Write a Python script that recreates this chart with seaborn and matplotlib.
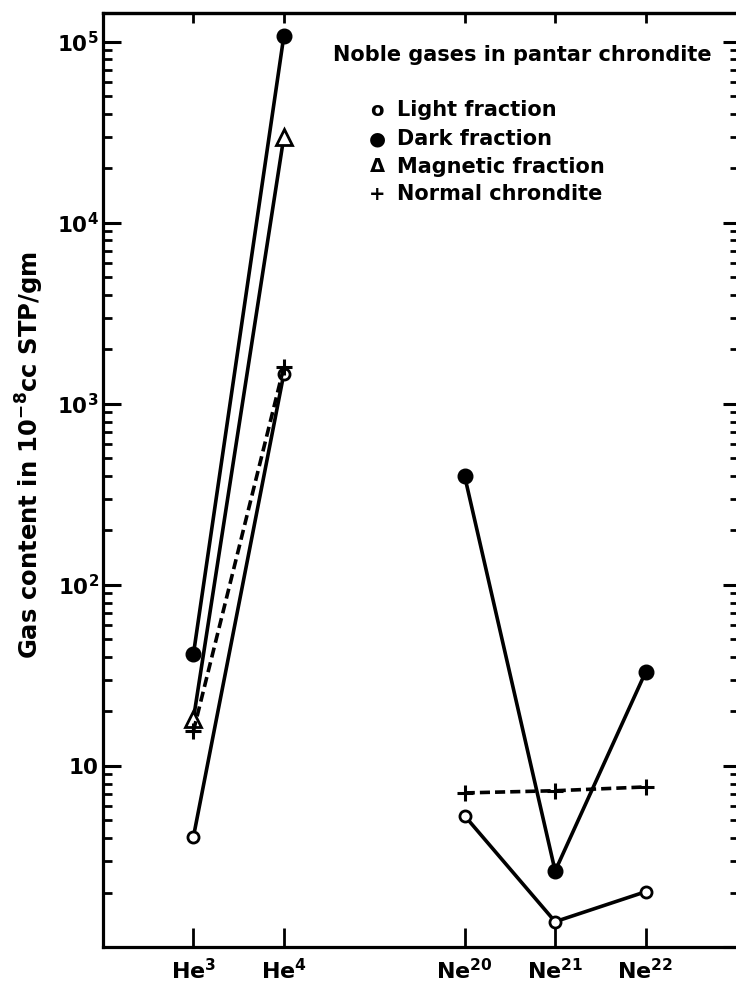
import numpy as np
import pandas as pd
import matplotlib
matplotlib.use("Agg")
import matplotlib.pyplot as plt
import seaborn as sns
from matplotlib.ticker import FixedLocator, FixedFormatter, LogLocator, NullFormatter

# ---------------- data ----------------
isotopes = [r"He$^{3}$", r"He$^{4}$", r"Ne$^{20}$", r"Ne$^{21}$", r"Ne$^{22}$"]
light = [4.06, 1470, 5.3, 1.38, 2.02]
dark = [41.5, 1.08e5, 398, 2.63, 33.0]
magnetic = [18.2, 2.99e4, np.nan, np.nan, np.nan]
normal = [15.6, 1600, 7.1, 7.3, 7.66]
series_names = ["Light fraction", "Dark fraction", "Magnetic fraction", "Normal chrondite"]
y_ticks = [10, 100, 1e3, 1e4, 1e5]
y_tick_labels = ["10", r"10$^{2}$", r"10$^{3}$", r"10$^{4}$", r"10$^{5}$"]
title_text = "Noble gases in pantar chrondite"
ylabel_text = r"Gas content in 10$^{-8}$cc STP/gm"

# ---------------- layout ----------------
iso_pos = [1, 2, 4, 5, 6]
iso_group = ["He", "He", "Ne", "Ne", "Ne"]

rows = []
for name, vals in zip(series_names, [light, dark, magnetic, normal]):
    for lab, p, g, v in zip(isotopes, iso_pos, iso_group, vals):
        rows.append(dict(series=name, isotope=lab, pos=p, group=g, value=v))
df = pd.DataFrame(rows)

sns.set_style("ticks")
plt.rcParams["font.family"] = ["DejaVu Sans"]
plt.rcParams["font.weight"] = "bold"
plt.rcParams["mathtext.fontset"] = "custom"
plt.rcParams["mathtext.rm"] = "DejaVu Sans:bold"
plt.rcParams["mathtext.it"] = "DejaVu Sans:bold"
plt.rcParams["mathtext.bf"] = "DejaVu Sans:bold"
plt.rcParams["mathtext.default"] = "rm"
for k in ["text.color", "axes.labelcolor", "xtick.color", "ytick.color", "axes.edgecolor"]:
    plt.rcParams[k] = "black"

fig = plt.figure(figsize=(7.36, 9.9), dpi=100)
W, H = 736, 990
ax = fig.add_axes([103 / W, 1 - 947 / H, (736 - 103) / W, (947 - 13) / H])

styles = {
    "Light fraction": dict(marker="o", markersize=8, markerfacecolor="white",
                           markeredgecolor="black", markeredgewidth=2.0, linestyle="-"),
    "Dark fraction": dict(marker="o", markersize=10.5, markerfacecolor="black",
                          markeredgecolor="black", markeredgewidth=1.0, linestyle="-"),
    "Magnetic fraction": dict(marker="^", markersize=11, markerfacecolor="white",
                              markeredgecolor="black", markeredgewidth=2.0, linestyle="-"),
    "Normal chrondite": dict(marker="+", markersize=11, markeredgecolor="black",
                             markeredgewidth=2.2, linestyle=(0, (2.8, 1.4))),
}

for name in series_names:
    for g in ["He", "Ne"]:
        sub = df[(df.series == name) & (df.group == g)].dropna(subset=["value"])
        if sub.empty:
            continue
        sns.lineplot(data=sub, x="pos", y="value", ax=ax, color="black",
                     linewidth=2.6, estimator=None, legend=False, **styles[name])

ax.set_yscale("log")
ax.set_ylim(1.0, 1.445e5)
ax.set_xlim(0, 7)

# y axis
ax.yaxis.set_major_locator(FixedLocator(y_ticks))
ax.yaxis.set_major_formatter(FixedFormatter(y_tick_labels))
ax.yaxis.set_minor_locator(LogLocator(base=10, subs=np.arange(2, 10)))
ax.yaxis.set_minor_formatter(NullFormatter())
ax.tick_params(axis="y", which="major", direction="in", length=13, width=2.2,
               labelsize=15.5, pad=3)
ax.tick_params(axis="y", which="minor", direction="in", length=6.5, width=2.0)
ax.set_ylabel(ylabel_text, fontsize=17.5, fontweight="bold")
ax.yaxis.set_label_coords((46 - 103) / 633, (947 - 455) / 934)

# x axis
ax.set_xticks(iso_pos)
ax.set_xticklabels(isotopes, fontsize=16, fontweight="bold")
ax.tick_params(axis="x", which="major", direction="in", length=13.5, width=2.0, pad=8)
ax.set_xlabel("")

for s in ["left", "bottom", "top"]:
    ax.spines[s].set_linewidth(2.3)
    ax.spines[s].set_color("black")
ax.spines["right"].set_visible(False)

# top ticks
secx = ax.secondary_xaxis("top")
secx.set_xticks(iso_pos)
secx.tick_params(direction="in", length=7, width=2.0, labeltop=False)
secx.spines["top"].set_linewidth(2.3)

# right ticks (no spine)
secy = ax.secondary_yaxis("right")
secy.yaxis.set_major_locator(FixedLocator([1, 10, 100, 1e3, 1e4, 1e5]))
secy.yaxis.set_minor_locator(LogLocator(base=10, subs=np.arange(2, 10)))
secy.yaxis.set_minor_formatter(NullFormatter())
secy.tick_params(axis="y", which="major", direction="in", length=9.5, width=2.2,
                 labelright=False)
secy.tick_params(axis="y", which="minor", direction="in", length=4.5, width=2.0)
secy.spines["right"].set_visible(False)

# legend-like annotation
fig.text(333 / W, 1 - 55 / H, title_text, fontsize=15, fontweight="bold",
         ha="left", va="center")
glyphs = ["o", "\u25cf", "\u0394", "+"]
row_y = [110, 139, 167, 194]
for gl, name, yy in zip(glyphs, series_names, row_y):
    fig.text(377 / W, 1 - yy / H, gl, fontsize=14, fontweight="bold",
             ha="center", va="center")
    fig.text(397 / W, 1 - yy / H, name, fontsize=15, fontweight="bold",
             ha="left", va="center")

fig.savefig("out.png", dpi=100)
